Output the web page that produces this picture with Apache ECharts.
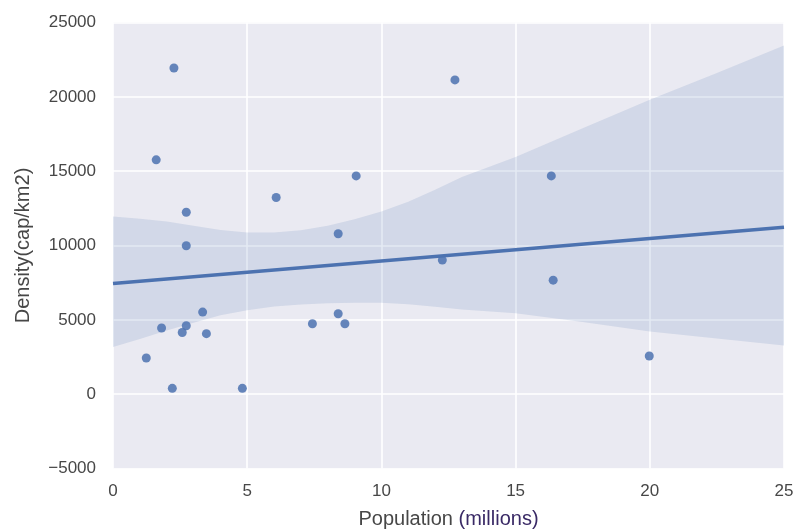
<!DOCTYPE html>
<html>
<head>
<meta charset="utf-8">
<script src="https://cdn.jsdelivr.net/npm/echarts@6/dist/echarts.min.js"></script>
<style>
html,body{margin:0;padding:0;background:#fff;}
#chart{width:795px;height:531px;}
</style>
</head>
<body>
<div id="chart"></div>
<script>
// Scatter points: population (millions), density (cap/km2)
var popValues = [2.27, 1.61, 2.73, 2.73, 6.08, 9.06, 8.39, 3.34, 8.39, 7.43, 8.64, 1.81, 2.73, 2.58, 3.48, 1.24, 2.21, 4.82, 12.74, 16.33, 12.27, 16.40, 19.98];
var densityValues = [21940, 15760, 12240, 9980, 13230, 14680, 10790, 5520, 5410, 4740, 4740, 4450, 4600, 4150, 4070, 2430, 390, 390, 21140, 14680, 9020, 7670, 2570];

// Regression line end points
var fitX = [0, 25];
var fitY = [7450, 11230];

// Confidence band
var bandX = [0, 1, 2, 3, 4, 5, 6, 7, 8, 9, 10, 11, 12, 13, 15, 17.5, 20, 22.5, 25];
var bandLower = [3170, 3710, 4280, 4800, 5300, 5650, 5900, 6030, 6110, 6150, 6150, 6050, 5880, 5700, 5450, 4860, 4220, 3750, 3280];
var bandUpper = [11950, 11800, 11620, 11330, 11050, 10880, 10870, 11020, 11330, 11770, 12290, 12950, 13750, 14600, 15950, 17890, 19800, 21600, 23450];

// Axis ticks
var xTicks = [0, 5, 10, 15, 20, 25];
var yTicks = [-5000, 0, 5000, 10000, 15000, 20000, 25000];

var scatterData = popValues.map(function (x, i) { return [x, densityValues[i]]; });
var fitData = fitX.map(function (x, i) { return [x, fitY[i]]; });

var chart = echarts.init(document.getElementById('chart'), null, { renderer: 'canvas' });
var FONT = "'Liberation Sans', Arial, sans-serif";
var TEXT = '#474747';

function fmt(v) { return v < 0 ? '\u2212' + String(-v) : String(v); }

chart.setOption({
  animation: false,
  backgroundColor: '#ffffff',
  grid: {
    left: 113, right: 11, top: 22.5, bottom: 62.5,
    containLabel: false, outerBoundsMode: 'none',
    show: true, backgroundColor: '#EAEAF2', borderWidth: 0
  },
  xAxis: {
    type: 'value',
    min: xTicks[0], max: xTicks[xTicks.length - 1], interval: 5,
    name: 'Population {m|(millions)}',
    nameLocation: 'middle', nameGap: 41,
    nameTextStyle: {
      color: TEXT, fontSize: 20, fontFamily: FONT,
      rich: { m: { color: '#3a2a66', fontSize: 20, fontFamily: FONT } }
    },
    axisLine: { show: false }, axisTick: { show: false },
    axisLabel: { color: TEXT, fontSize: 17, fontFamily: FONT, margin: 14, formatter: fmt },
    splitLine: { show: true, lineStyle: { color: '#ffffff', width: 1.6 } }
  },
  yAxis: {
    type: 'value',
    min: yTicks[0], max: yTicks[yTicks.length - 1], interval: 5000,
    name: 'Density(cap/km2)',
    nameLocation: 'middle', nameGap: 80, nameRotate: 90,
    nameTextStyle: { color: TEXT, fontSize: 20, fontFamily: FONT },
    axisLine: { show: false }, axisTick: { show: false },
    axisLabel: { color: TEXT, fontSize: 17, fontFamily: FONT, margin: 17, formatter: fmt },
    splitLine: { show: true, lineStyle: { color: '#ffffff', width: 1.6 } }
  },
  series: [
    {
      type: 'custom',
      z: 1,
      silent: true,
      data: [0],
      renderItem: function (params, api) {
        var pts = [];
        for (var i = 0; i < bandX.length; i++) pts.push(api.coord([bandX[i], bandUpper[i]]));
        for (var j = bandX.length - 1; j >= 0; j--) pts.push(api.coord([bandX[j], bandLower[j]]));
        return {
          type: 'polygon',
          shape: { points: pts },
          style: { fill: 'rgba(76,114,176,0.15)', stroke: null }
        };
      }
    },
    {
      type: 'scatter',
      z: 2,
      data: scatterData,
      symbol: 'circle',
      symbolSize: 9,
      itemStyle: { color: '#4C72B0', opacity: 0.85 }
    },
    {
      type: 'line',
      z: 3,
      data: fitData,
      symbol: 'none',
      lineStyle: { color: '#4C72B0', width: 3.5 }
    }
  ]
});
</script>
</body>
</html>
